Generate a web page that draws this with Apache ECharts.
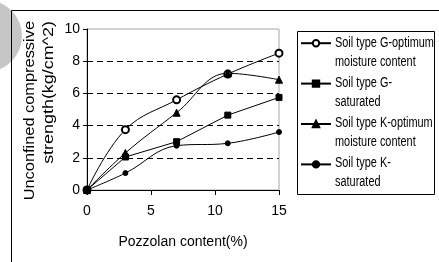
<!DOCTYPE html>
<html><head><meta charset="utf-8">
<script src="https://cdn.jsdelivr.net/npm/echarts@6/dist/echarts.min.js"></script>
<style>html,body{margin:0;padding:0;background:#fff}#c{width:439px;height:262px}</style>
</head><body><div id="c"></div>
<script>
// ---- data ----
const xValues = [0, 3, 7, 11, 15];
const gOptimum = [0, 3.75, 5.6, 7.2, 8.5];
const gSaturated = [0, 2.05, 3.0, 4.65, 5.75];
const kOptimum = [0, 2.3, 4.8, 7.25, 6.85];
const kSaturated = [0, 1.05, 2.75, 2.9, 3.6];
const seriesNames = [
  'Soil type G-optimum\nmoisture content',
  'Soil type G-\nsaturated',
  'Soil type K-optimum\nmoisture content',
  'Soil type K-\nsaturated'
];
const xTicks = [0, 5, 10, 15];
const yTicks = [0, 2, 4, 6, 8, 10];
const xTitle = 'Pozzolan content(%)';
const yTitleLines = ['Unconfined compressive', 'strength(kg/cm^2)'];

const FONT = '"Liberation Sans", Arial, sans-serif';

function pts(vals) { return xValues.map((x, i) => [x, vals[i]]); }
function mk(name, vals, symbol, size, smooth) {
  return {
    type: 'line', name: name, data: pts(vals),
    symbol: symbol, symbolSize: size, smooth: smooth,
    showSymbol: true,
    lineStyle: { color: '#000', width: 1 },
    itemStyle: { color: '#000', borderColor: '#000', borderWidth: 1 },
    emphasis: { disabled: true },
    animation: false
  };
}

// legend labels: condensed text (horizontal scale) beside the legend icons
const LEG_TOP = 43, LEG_STEP = 40;
const legendLabels = seriesNames.map((n, i) => ({
  type: 'text', x: 335, y: LEG_TOP + LEG_STEP * i - 9.5, scaleX: 0.78, silent: true,
  style: { text: n, fontSize: 14, lineHeight: 19, align: 'left', verticalAlign: 'top', fill: '#000', fontFamily: FONT }
}));

// y-axis title: two stretched lines, end-aligned at the top
const yTitleX = [30, 49];
const yTitleScale = [1.17, 1.28];
const yTitle = yTitleLines.map((t, i) => ({
  type: 'text', x: yTitleX[i], y: 21, rotation: Math.PI / 2, scaleX: yTitleScale[i], silent: true,
  style: { text: t, fontSize: 14, align: 'right', verticalAlign: 'middle', fill: '#000', fontFamily: FONT }
}));

const chart = echarts.init(document.getElementById('c'), null, { renderer: 'canvas' });
chart.setOption({
  animation: false,
  backgroundColor: '#fff',
  grid: { left: 87, right: 160, top: 29, bottom: 72, show: true, borderColor: '#a6a6a6', borderWidth: 1, backgroundColor: '#fff' },
  xAxis: {
    type: 'value', min: xTicks[0], max: xTicks[xTicks.length - 1], interval: xTicks[1] - xTicks[0],
    axisLine: { show: true, lineStyle: { color: '#000', width: 1 } },
    axisTick: { show: true, length: 5, lineStyle: { color: '#000' } },
    axisLabel: { fontSize: 14, color: '#000', margin: 14, fontFamily: FONT },
    splitLine: { show: false },
    name: xTitle, nameLocation: 'middle', nameGap: 45,
    nameTextStyle: { fontSize: 14, color: '#000', fontFamily: FONT }
  },
  yAxis: {
    type: 'value', min: yTicks[0], max: yTicks[yTicks.length - 1], interval: yTicks[1] - yTicks[0],
    axisLine: { show: true, lineStyle: { color: '#000', width: 1 } },
    axisTick: { show: true, length: 4, lineStyle: { color: '#000' } },
    axisLabel: { fontSize: 14, color: '#000', margin: 7, fontFamily: FONT },
    splitLine: { show: true, lineStyle: { color: ['rgba(0,0,0,0)', '#000', '#000', '#000', '#000', 'rgba(0,0,0,0)'], type: [6, 4], width: 1 } }
  },
  legend: {
    orient: 'vertical', left: 300, top: LEG_TOP - 4, itemWidth: 30, itemHeight: 8, itemGap: LEG_STEP - 8,
    padding: 0, selectedMode: false,
    formatter: function () { return ''; },
    textStyle: { fontSize: 1, color: 'rgba(0,0,0,0)' },
    data: seriesNames
  },
  graphic: [
    { type: 'circle', shape: { cx: -14, cy: 36, r: 36 }, style: { fill: '#c6c6c6' }, z: -1, silent: true },
    { type: 'rect', shape: { x: 11.5, y: 10.5, width: 600, height: 400 }, style: { fill: 'none', stroke: '#000', lineWidth: 1 }, silent: true },
    { type: 'rect', shape: { x: 297.5, y: 31.5, width: 137, height: 163 }, style: { fill: 'none', stroke: '#000', lineWidth: 1 }, silent: true }
  ].concat(yTitle, legendLabels),
  series: [
    mk(seriesNames[0], gOptimum, 'emptyCircle', 7, 0.4),
    mk(seriesNames[1], gSaturated, 'rect', 6, false),
    mk(seriesNames[2], kOptimum, 'triangle', 7, 0.4),
    mk(seriesNames[3], kSaturated, 'circle', 5, 0.4)
  ]
});
</script>
</body></html>
